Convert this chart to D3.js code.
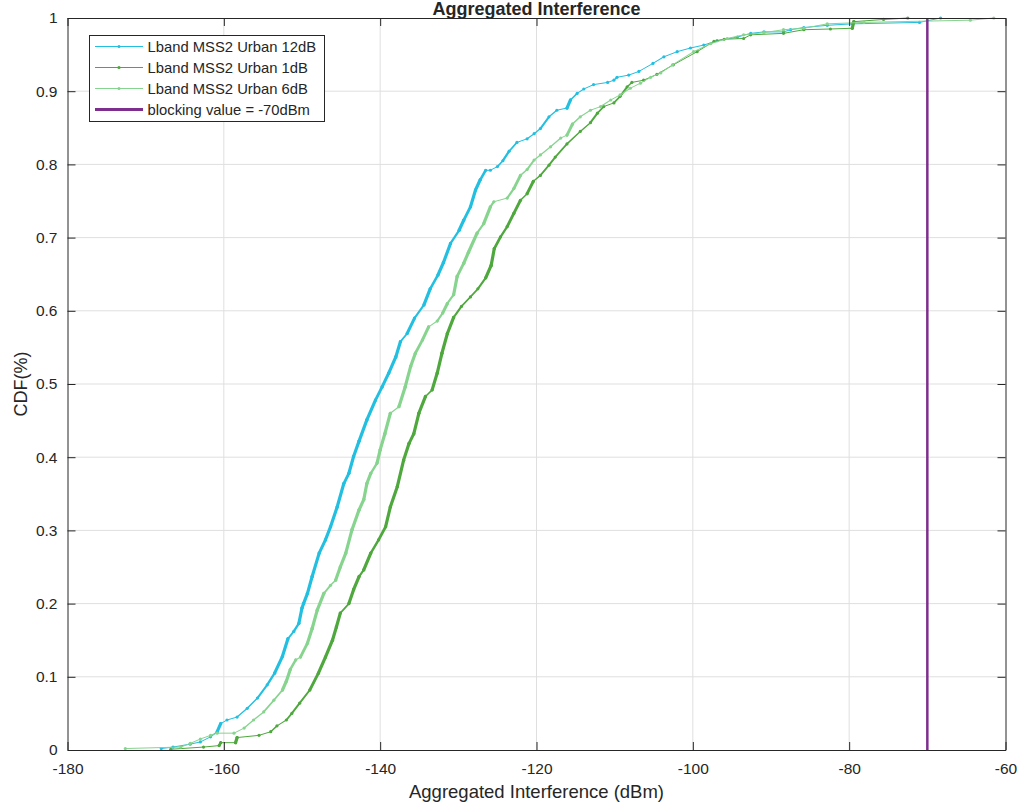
<!DOCTYPE html>
<html>
<head>
<meta charset="utf-8">
<script src="https://cdn.jsdelivr.net/npm/d3@7/dist/d3.min.js"></script>
<style>
  html, body { margin: 0; padding: 0; background: #fff; }
  svg { display: block; }
  text { font-family: "Liberation Sans", Arial, Helvetica, sans-serif; fill: #262626; }
</style>
</head>
<body>
<svg id="chart" width="1019" height="803"></svg>
<script>
// Empirical CDF samples of aggregated interference, [dBm, CDF]
const urban12dB = [
  [-168.0,0.002],[-166.5,0.004],[-164.3,0.008],[-163.0,0.011],[-161.7,0.018],[-160.85,0.025],
  [-160.4,0.036],[-159.6,0.041],[-158.3,0.045],[-157.0,0.057],[-155.7,0.071],[-154.45,0.089],
  [-153.5,0.105],[-152.5,0.128],[-151.8,0.152],[-151.05,0.162],[-150.4,0.173],[-150.0,0.194],
  [-149.8,0.200],[-149.3,0.214],[-148.7,0.237],[-147.8,0.269],[-147.0,0.287],[-146.35,0.305],
  [-145.5,0.332],[-144.65,0.364],[-144.0,0.378],[-143.4,0.401],[-142.7,0.422],[-141.7,0.451],
  [-140.6,0.478],[-139.75,0.496],[-138.9,0.515],[-138.0,0.537],[-137.4,0.558],[-136.55,0.569],
  [-135.6,0.590],[-134.4,0.608],[-133.6,0.630],[-132.6,0.649],[-131.9,0.666],[-131.0,0.692],
  [-129.9,0.710],[-129.3,0.724],[-128.45,0.742],[-127.8,0.765],[-127.2,0.779],[-126.5,0.792],
  [-125.9,0.792],[-125.0,0.797],[-124.3,0.805],[-123.5,0.818],[-122.5,0.830],[-121.2,0.835],
  [-120.3,0.842],[-119.5,0.849],[-118.4,0.865],[-117.4,0.874],[-116.1,0.877],[-115.65,0.888],
  [-114.8,0.897],[-113.95,0.903],[-112.7,0.909],[-110.9,0.912],[-110.1,0.915],[-109.7,0.919],
  [-108.2,0.922],[-106.9,0.927],[-105.1,0.938],[-103.7,0.947],[-102.0,0.954],[-100.3,0.959],
  [-98.6,0.963],[-96.9,0.969],[-94.3,0.974],[-92.6,0.979],[-90.9,0.981],[-88.4,0.981],
  [-87.5,0.984],[-85.8,0.987],[-82.8,0.990],[-79.6,0.992],[-71.0,0.994],[-68.3,1.000]
];
const urban1dB = [
  [-166.8,0.001],[-162.6,0.004],[-160.6,0.006],[-160.4,0.010],[-158.5,0.010],[-158.3,0.017],
  [-155.5,0.020],[-154.0,0.025],[-153.2,0.033],[-152.0,0.041],[-151.3,0.050],[-150.3,0.064],
  [-149.0,0.082],[-147.9,0.105],[-147.0,0.127],[-146.1,0.150],[-145.6,0.168],[-145.1,0.187],
  [-144.0,0.200],[-143.4,0.219],[-142.7,0.237],[-142.1,0.246],[-141.2,0.269],[-140.2,0.287],
  [-139.3,0.305],[-138.7,0.332],[-137.8,0.360],[-137.0,0.396],[-136.3,0.419],[-135.7,0.432],
  [-135.05,0.460],[-134.2,0.483],[-133.35,0.492],[-132.7,0.515],[-132.1,0.542],[-131.4,0.569],
  [-130.6,0.591],[-129.6,0.606],[-128.45,0.619],[-127.5,0.630],[-126.5,0.645],[-125.8,0.662],
  [-125.4,0.685],[-124.6,0.701],[-123.75,0.715],[-122.9,0.733],[-122.05,0.751],[-121.2,0.760],
  [-120.4,0.777],[-119.5,0.785],[-118.4,0.799],[-117.6,0.810],[-116.1,0.828],[-114.4,0.845],
  [-113.1,0.857],[-112.2,0.870],[-111.4,0.879],[-110.1,0.884],[-109.3,0.893],[-108.4,0.906],
  [-107.8,0.912],[-106.3,0.915],[-104.6,0.923],[-102.5,0.936],[-99.45,0.954],[-97.3,0.968],
  [-96.0,0.971],[-93.5,0.972],[-92.6,0.977],[-88.4,0.979],[-85.8,0.984],[-82.4,0.985],
  [-79.6,0.986],[-79.4,0.995],[-75.6,0.998],[-72.5,1.000]
];
const urban6dB = [
  [-172.6,0.002],[-165.5,0.004],[-164.3,0.009],[-163.0,0.015],[-161.7,0.020],[-160.85,0.023],
  [-158.7,0.023],[-157.4,0.030],[-156.2,0.041],[-154.9,0.052],[-153.6,0.068],[-152.5,0.082],
  [-152.0,0.094],[-151.5,0.110],[-150.8,0.123],[-150.2,0.127],[-149.3,0.146],[-148.7,0.166],
  [-148.05,0.191],[-147.2,0.214],[-146.35,0.225],[-145.7,0.232],[-145.1,0.250],[-144.4,0.269],
  [-143.6,0.301],[-142.7,0.328],[-142.1,0.342],[-141.7,0.364],[-141.2,0.378],[-140.4,0.392],
  [-140.0,0.410],[-139.4,0.432],[-138.7,0.460],[-137.6,0.469],[-136.8,0.496],[-136.1,0.524],
  [-135.5,0.542],[-134.6,0.560],[-133.8,0.578],[-132.7,0.586],[-132.0,0.597],[-131.4,0.610],
  [-130.6,0.622],[-130.15,0.647],[-129.3,0.665],[-128.7,0.680],[-127.6,0.706],[-126.75,0.719],
  [-125.9,0.742],[-125.45,0.749],[-123.75,0.754],[-122.9,0.767],[-122.05,0.785],[-121.2,0.793],
  [-120.3,0.806],[-119.5,0.813],[-118.2,0.824],[-116.9,0.836],[-116.1,0.840],[-115.4,0.855],
  [-114.4,0.865],[-113.1,0.874],[-111.8,0.879],[-110.5,0.888],[-109.3,0.895],[-108.0,0.904],
  [-106.7,0.911],[-105.4,0.919],[-104.1,0.925],[-102.6,0.936],[-99.9,0.954],[-97.7,0.965],
  [-95.6,0.972],[-93.5,0.977],[-90.9,0.980],[-88.4,0.984],[-85.8,0.986],[-82.8,0.992],
  [-78.1,0.994],[-64.5,0.997],[-61.5,1.000]
];

const seriesNames = ["Lband MSS2 Urban 12dB", "Lband MSS2 Urban 1dB", "Lband MSS2 Urban 6dB"];
const seriesColors = ["#22bfe0", "#4ea83d", "#86d48e"];
const blockingValue = -70;
const blockingLabel = "blocking value = -70dBm";
const xTicks = [-180, -160, -140, -120, -100, -80, -60];
const yTicks = [0, 0.1, 0.2, 0.3, 0.4, 0.5, 0.6, 0.7, 0.8, 0.9, 1];

const allSeries = [urban12dB, urban1dB, urban6dB];

const svg = d3.select("#chart");
const plotLeft = 67.5, plotRight = 1005.5, plotTop = 18, plotBottom = 750;
const x = d3.scaleLinear().domain([-180, -60]).range([plotLeft, plotRight]);
const y = d3.scaleLinear().domain([0, 1]).range([plotBottom, plotTop]);
const axisColor = "#262626";

svg.append("rect").attr("width", 1019).attr("height", 803).attr("fill", "#fff");

// grid
const grid = svg.append("g");
grid.selectAll("line.gx").data(xTicks.slice(1, -1)).join("line").attr("class", "gx")
  .attr("x1", d => x(d)).attr("x2", d => x(d)).attr("y1", plotTop).attr("y2", plotBottom)
  .attr("stroke", "#dfdfdf").attr("stroke-width", 1);
grid.selectAll("line.gy").data(yTicks.slice(1, -1)).join("line").attr("class", "gy")
  .attr("x1", plotLeft).attr("x2", plotRight).attr("y1", d => y(d)).attr("y2", d => y(d))
  .attr("stroke", "#dfdfdf").attr("stroke-width", 1);

// curves: segment width grows where the samples crowd along a steep stretch
const curves = svg.append("g");
allSeries.forEach((data, i) => {
  const g = curves.append("g");
  const segs = d3.pairs(data);
  g.selectAll("line").data(segs).join("line")
    .attr("x1", d => x(d[0][0])).attr("y1", d => y(d[0][1]))
    .attr("x2", d => x(d[1][0])).attr("y2", d => y(d[1][1]))
    .attr("stroke", seriesColors[i])
    .attr("stroke-linecap", "round")
    .attr("stroke-width", d => {
      const dx = Math.abs(x(d[1][0]) - x(d[0][0]));
      const dy = Math.abs(y(d[1][1]) - y(d[0][1]));
      const s = dy / Math.max(dx, 0.01);
      const t = Math.max(0, Math.min(1, (s - 0.6) / 1.6));
      return 1 + 2.2 * t;
    });
  g.selectAll("circle").data(data).join("circle")
    .attr("cx", d => x(d[0])).attr("cy", d => y(d[1])).attr("r", 1.6)
    .attr("fill", seriesColors[i]);
});

// blocking threshold
svg.append("line")
  .attr("x1", x(blockingValue)).attr("x2", x(blockingValue))
  .attr("y1", y(0)).attr("y2", y(1))
  .attr("stroke", "#7e2f8e").attr("stroke-width", 2.5);

// axes box with inward ticks on all sides
const tickLen = 8;
const xAxisB = d3.axisBottom(x).tickValues(xTicks).tickSize(-tickLen).tickSizeOuter(0).tickPadding(13).tickFormat(d => String(d));
const xAxisT = d3.axisTop(x).tickValues(xTicks).tickSize(-tickLen).tickSizeOuter(0).tickFormat("");
const yAxisL = d3.axisLeft(y).tickValues(yTicks).tickSize(-tickLen).tickSizeOuter(0).tickPadding(10).tickFormat(d => String(d));
const yAxisR = d3.axisRight(y).tickValues(yTicks).tickSize(-tickLen).tickSizeOuter(0).tickFormat("");

function styleAxis(g) {
  g.select(".domain").attr("stroke", axisColor).attr("stroke-width", 1);
  g.selectAll(".tick line").attr("stroke", axisColor).attr("stroke-width", 1);
  g.selectAll(".tick text").attr("fill", axisColor)
    .style("font-family", '"Liberation Sans", Arial, sans-serif').style("font-size", "15.5px");
}
svg.append("g").attr("transform", `translate(0,${plotBottom})`).call(xAxisB).call(styleAxis);
svg.append("g").attr("transform", `translate(0,${plotTop})`).call(xAxisT).call(styleAxis);
svg.append("g").attr("transform", `translate(${plotLeft},0)`).call(yAxisL).call(styleAxis);
svg.append("g").attr("transform", `translate(${plotRight},0)`).call(yAxisR).call(styleAxis);

// titles
svg.append("text").attr("x", (plotLeft + plotRight) / 2).attr("y", 15)
  .attr("text-anchor", "middle").style("font-size", "18px").style("font-weight", "bold")
  .attr("fill", "#000").text("Aggregated Interference");
svg.append("text").attr("x", (plotLeft + plotRight) / 2).attr("y", 798)
  .attr("text-anchor", "middle").style("font-size", "18.5px")
  .text("Aggregated Interference (dBm)");
svg.append("text").attr("transform", `translate(27,${(plotTop + plotBottom) / 2}) rotate(-90)`)
  .attr("text-anchor", "middle").style("font-size", "18px").text("CDF(%)");

// legend
const legend = svg.append("g");
legend.append("rect").attr("x", 89.5).attr("y", 35.5).attr("width", 235).attr("height", 86)
  .attr("fill", "#fff").attr("stroke", axisColor).attr("stroke-width", 1);
const legendItems = seriesNames.map((n, i) => ({ name: n, color: seriesColors[i], w: 1, dot: true }))
  .concat([{ name: blockingLabel, color: "#7e2f8e", w: 3, dot: false }]);
const rowY = d3.scaleLinear().domain([0, 3]).range([46.5, 109.5]);
legendItems.forEach((it, i) => {
  const yy = rowY(i);
  legend.append("line").attr("x1", 95).attr("x2", 143).attr("y1", yy).attr("y2", yy)
    .attr("stroke", it.color).attr("stroke-width", it.w);
  if (it.dot) legend.append("circle").attr("cx", 119).attr("cy", yy).attr("r", 1.6).attr("fill", it.color);
  legend.append("text").attr("x", 147.5).attr("y", yy + 5).style("font-size", "14.8px")
    .attr("fill", "#000").text(it.name);
});
</script>
</body>
</html>
